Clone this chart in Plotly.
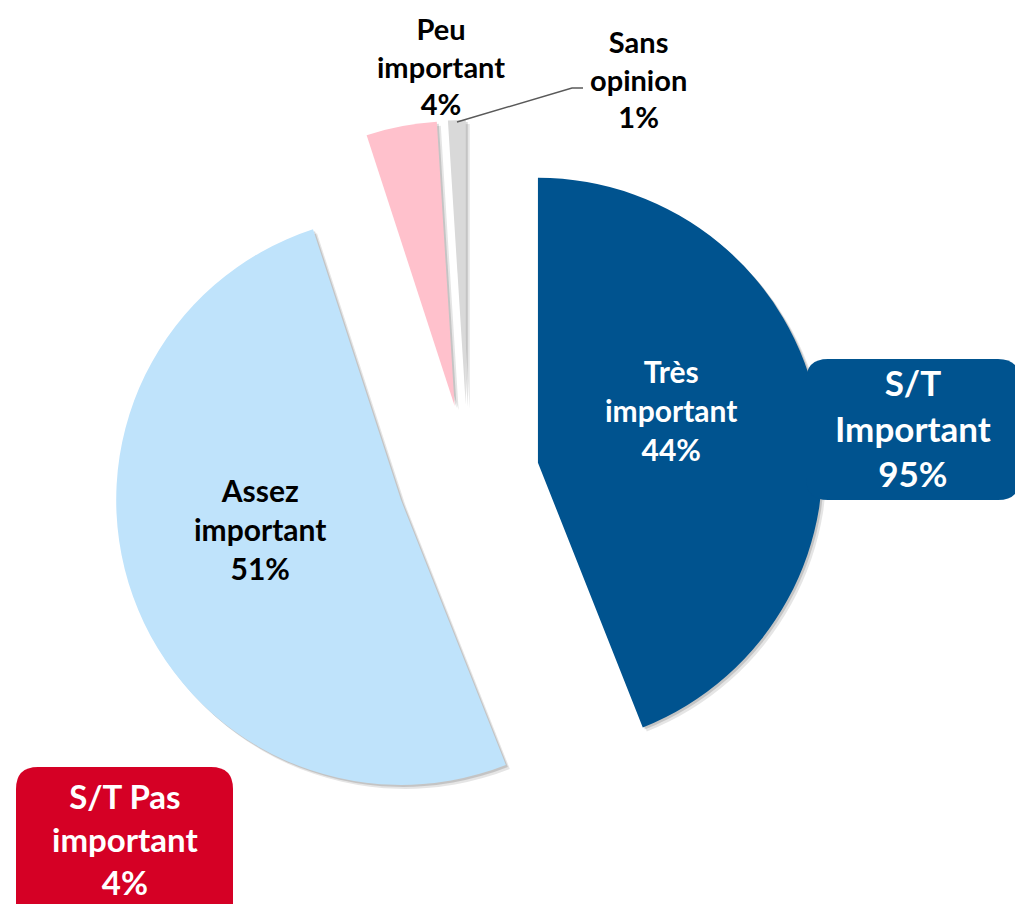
import plotly.graph_objects as go

# ---- data ----
labels = ["Très important", "Assez important", "Peu important", "Sans opinion"]
values = [44, 51, 4, 1]
label_lines = [["Très", "important"], ["Assez", "important"], ["Peu", "important"], ["Sans", "opinion"]]
summary_titles = [["S/T", "Important"], ["S/T Pas", "important"]]
summary_values = [95, 4]

# ---- style ----
colors = ["#00538F", "#BFE3FB", "#FFC1CC", "#D9D9D9"]
text_colors = ["white", "black", "black", "black"]
pulls = [0.25, 0.25, 0.25, 0.25]
box_colors = ["#00538F", "#D50025"]
FONT = "Lato"

W, H = 1023, 904
OFF = 8  # page body margin


def fx(x):
    return (x - OFF) / W


def fy(y):
    return 1 - (y - OFF) / H


# pie box (pixels, in screenshot coordinates)
bx0, bx1, by0, by1 = 112, 824, 120, 832

fig = go.Figure()

# soft shadow (two layers)
for sh, alpha in [(4, 0.10), (2, 0.14)]:
    fig.add_trace(go.Pie(
        values=values, labels=labels, sort=False, direction="clockwise", rotation=0,
        pull=pulls, textinfo="none", hoverinfo="skip", showlegend=False,
        marker=dict(colors=[f"rgba(0,0,0,{alpha})"] * len(values), line=dict(width=0)),
        domain=dict(x=[fx(bx0 + sh), fx(bx1 + sh)], y=[fy(by1 + sh), fy(by0 + sh)]),
    ))

fig.add_trace(go.Pie(
    values=values, labels=labels, sort=False, direction="clockwise", rotation=0,
    pull=pulls, textinfo="none", showlegend=False,
    marker=dict(colors=colors, line=dict(width=0)),
    domain=dict(x=[fx(bx0), fx(bx1)], y=[fy(by1), fy(by0)]),
))

# label positions (pixel centers) and sizes
label_pos = [(671, 410, 30), (260, 529, 30), (441, 66, 29), (638, 79, 29)]
annotations = []
for i, (lines, v) in enumerate(zip(label_lines, values)):
    x, y, fs = label_pos[i]
    annotations.append(dict(
        text="<br>".join(lines + [f"{v}%"]), x=fx(x), y=fy(y), xref="paper", yref="paper",
        showarrow=False, xanchor="center", yanchor="middle", align="center",
        font=dict(family=FONT, size=fs, color=text_colors[i], weight="bold"),
    ))


def rounded_rect(x0, y0, x1, y1, r):
    return (f"M {fx(x0 + r)} {fy(y0)} L {fx(x1 - r)} {fy(y0)} Q {fx(x1)} {fy(y0)} {fx(x1)} {fy(y0 + r)} "
            f"L {fx(x1)} {fy(y1 - r)} Q {fx(x1)} {fy(y1)} {fx(x1 - r)} {fy(y1)} "
            f"L {fx(x0 + r)} {fy(y1)} Q {fx(x0)} {fy(y1)} {fx(x0)} {fy(y1 - r)} "
            f"L {fx(x0)} {fy(y0 + r)} Q {fx(x0)} {fy(y0)} {fx(x0 + r)} {fy(y0)} Z")


boxes = [(806, 359, 1020, 500), (16, 767, 233, 930)]
box_text_pos = [(913, 428, 35), (125, 839, 33)]
shapes = []
for i, (x0, y0, x1, y1) in enumerate(boxes):
    shapes.append(dict(type="path", xref="paper", yref="paper", path=rounded_rect(x0, y0, x1, y1, 22),
                       fillcolor=box_colors[i], line=dict(width=0), layer="above"))
    tx, ty, fs = box_text_pos[i]
    annotations.append(dict(
        text="<br>".join(summary_titles[i] + [f"{summary_values[i]}%"]), x=fx(tx), y=fy(ty),
        xref="paper", yref="paper", showarrow=False, xanchor="center", yanchor="middle", align="center",
        font=dict(family=FONT, size=fs, color="white", weight="bold"),
    ))

# leader line for "Sans opinion"
shapes.append(dict(type="path", xref="paper", yref="paper",
                   path=f"M {fx(457)} {fy(122)} L {fx(572)} {fy(88)} L {fx(583)} {fy(88)}",
                   line=dict(color="#595959", width=1.5), layer="above"))

fig.update_layout(
    width=W, height=H, margin=dict(l=0, r=0, t=0, b=0),
    paper_bgcolor="white", plot_bgcolor="white",
    shapes=shapes, annotations=annotations, showlegend=False,
)

fig.write_html("out.html")
